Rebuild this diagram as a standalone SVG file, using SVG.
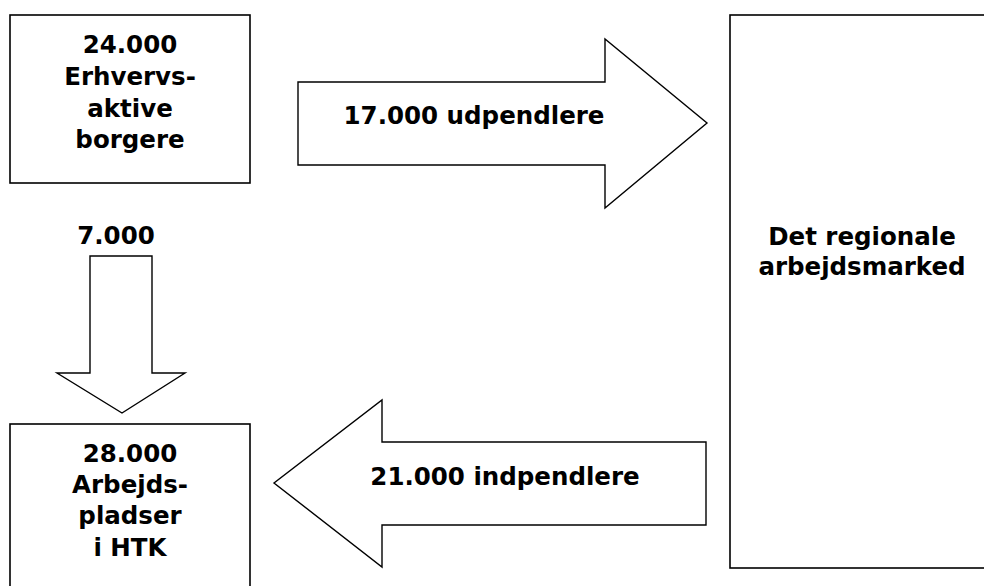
<svg xmlns="http://www.w3.org/2000/svg" width="984" height="586" viewBox="0 0 984 586">
<style>
.box{fill:#fff;stroke:#000;stroke-width:1.6}
.arr{fill:#fff;stroke:#000;stroke-width:1.4;stroke-linejoin:miter}
text{font-family:"DejaVu Sans",Verdana,sans-serif;font-weight:bold;font-size:24.5px;fill:#000;text-anchor:middle}
</style>
<rect width="984" height="586" fill="#fff"/>
<g id="connectors">
<g id="udpendlere">
<polygon class="arr" points="298,82 605,82 605,39 707,123 605,208 605,165 298,165"/>
<text x="474" y="124">17.000 udpendlere</text>
</g>
<g id="pendlere-intern">
<polygon class="arr" points="90,256 152,256 152,373 185,373 122,413 57,373 90,373"/>
<text x="116" y="244">7.000</text>
</g>
<g id="indpendlere">
<polygon class="arr" points="706,442 382,442 382,400 274,483 382,567 382,525 706,525"/>
<text x="505" y="485">21.000 indpendlere</text>
</g>
</g>
<g id="borgere">
<rect class="box" x="10" y="15" width="240" height="168"/>
<text x="130" y="53">24.000</text>
<text x="130" y="85">Erhvervs-</text>
<text x="130" y="117">aktive</text>
<text x="130" y="148">borgere</text>
</g>
<g id="arbejdspladser">
<rect class="box" x="10" y="424" width="240" height="170"/>
<text x="130" y="462">28.000</text>
<text x="130" y="493">Arbejds-</text>
<text x="130" y="524">pladser</text>
<text x="130" y="556">i HTK</text>
</g>
<g id="regionalt">
<rect class="box" x="730" y="15" width="260" height="553"/>
<text x="862" y="245">Det regionale</text>
<text x="862" y="275">arbejdsmarked</text>
</g>
</svg>
